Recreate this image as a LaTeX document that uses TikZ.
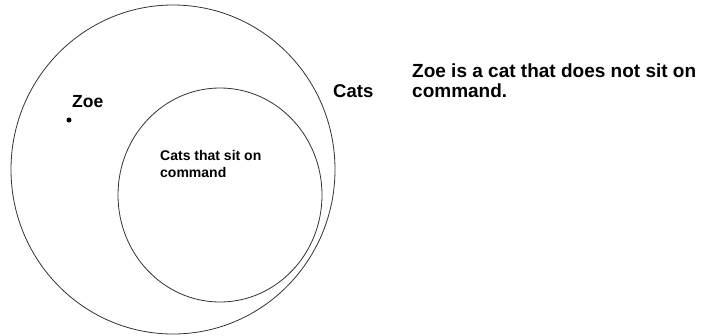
\documentclass[tikz,border=0pt]{standalone}
\usepackage{fontspec}
\setmainfont{Liberation Sans}
\tikzset{
  ring/.style={draw=black!80, line width=0.8pt},
  lbl/.style={anchor=base west, inner sep=0pt, font=\bfseries\fontsize{18.5}{20}\selectfont},
  msg/.style={anchor=base west, inner sep=0pt, font=\bfseries\fontsize{19}{21}\selectfont},
  smalllbl/.style={anchor=base west, inner sep=0pt, font=\bfseries\fontsize{14}{16}\selectfont},
}
\begin{document}
\begin{tikzpicture}[x=1pt,y=-1pt]
\useasboundingbox[fill=white] (0,0) rectangle (704,335);
\draw[ring] (173,169.5) ellipse [x radius=162, y radius=164.5];
\draw[ring] (220,195) ellipse [x radius=102, y radius=107];
\fill (69,120) circle [radius=2.5];
\node[lbl, font=\bfseries\fontsize{17.5}{20}\selectfont] (zoe) at (72,107) {Zoe};
\node[lbl] (cats) at (333,97) {Cats};
\node[msg] (msg1) at (412,77) {Zoe is a cat that does not sit on};
\node[msg] (msg2) at (412,97) {command.};
\node[smalllbl] (sit1) at (160,160) {Cats that sit on};
\node[smalllbl] (sit2) at (160,177) {command};
\end{tikzpicture}
\end{document}
